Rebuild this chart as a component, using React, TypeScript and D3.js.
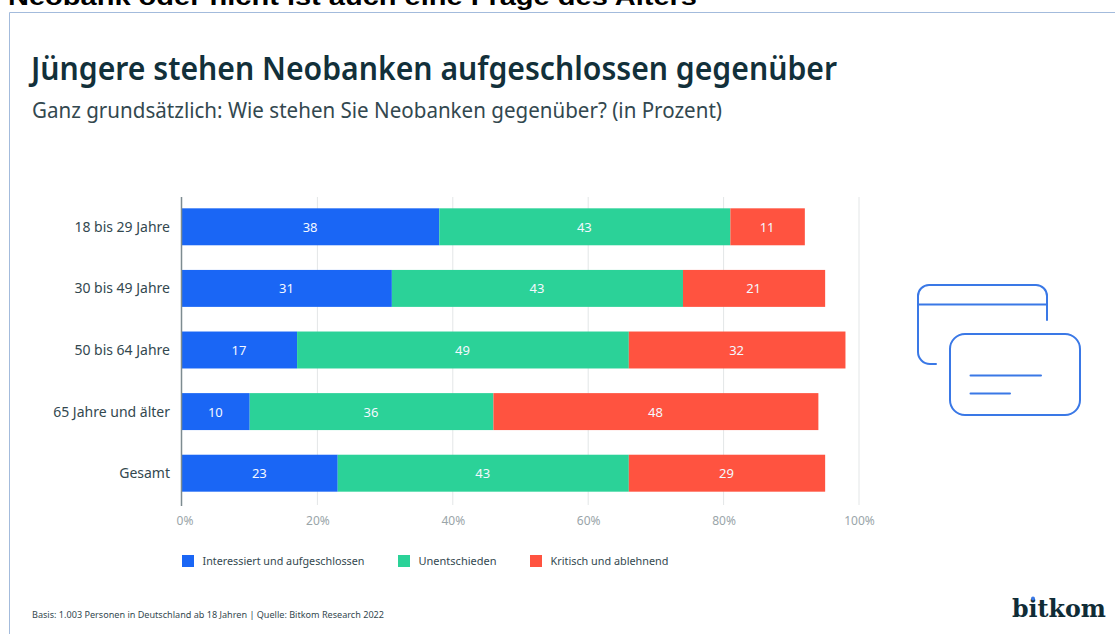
import React from "react";
import * as d3 from "d3";

const categories = ["18 bis 29 Jahre", "30 bis 49 Jahre", "50 bis 64 Jahre", "65 Jahre und älter", "Gesamt"];
const interessiert = [38, 31, 17, 10, 23];
const unentschieden = [43, 43, 49, 36, 43];
const kritisch = [11, 21, 32, 48, 29];
const seriesNames = ["Interessiert und aufgeschlossen", "Unentschieden", "Kritisch und ablehnend"];
const seriesColors = ["#1a66f5", "#2bd298", "#ff5340"];
const tickValues = [0, 20, 40, 60, 80, 100];
const headline = "Neobank oder nicht ist auch eine Frage des Alters";
const title = "Jüngere stehen Neobanken aufgeschlossen gegenüber";
const subtitle = "Ganz grundsätzlich: Wie stehen Sie Neobanken gegenüber? (in Prozent)";
const source = "Basis: 1.003 Personen in Deutschland ab 18 Jahren | Quelle: Bitkom Research 2022";

const FONT = "'Noto Sans', 'Open Sans', sans-serif";
const DARK = "#12303a";
const SOFT = "#33484f";

export default function App() {
  const x = d3.scaleLinear().domain([0, 100]).range([182, 859]);
  const y = d3.scaleBand().domain(categories).range([196, 504]).paddingInner(0.4).paddingOuter(0.2);
  const rows = categories.map((c, i) => ({ c, a: interessiert[i], b: unentschieden[i], d: kritisch[i] }));
  const stack = d3.stack<any>().keys(["a", "b", "d"])(rows);
  const legendX = [182, 398, 530];
  const legendW = [162, 78, 118];
  return (
    <svg width={1115} height={634} style={{ position: "absolute", left: 0, top: 0, background: "#fff" }} fontFamily={FONT}>
      <text x={8} y={5} fontFamily="'Liberation Sans', Arial, sans-serif" fontWeight={700} fontSize={24} fill="#000" textLength={689} lengthAdjust="spacingAndGlyphs">{headline}</text>
      <path d="M9.500,634V12.500H1115" fill="none" stroke="#a3bbdc" strokeWidth={1} />
      <text x={31} y={80} fontSize={33} fontWeight={600} fill={DARK} textLength={806} lengthAdjust="spacingAndGlyphs">{title}</text>
      <text x={32} y={118} fontSize={21.5} fill={SOFT} textLength={690} lengthAdjust="spacingAndGlyphs">{subtitle}</text>

      {tickValues.slice(1).map((t) => (
        <line key={t} x1={x(t)} x2={x(t)} y1={197} y2={505} stroke="#e3e6e7" strokeWidth={1} />
      ))}
      {stack.map((s, si) =>
        s.map((d, i) => (
          <g key={`${si}-${i}`}>
            <rect x={x(d[0])} y={y(categories[i])} width={x(d[1]) - x(d[0])} height={y.bandwidth()} fill={seriesColors[si]} />
            <text x={(x(d[0]) + x(d[1])) / 2 - 0.5} y={y(categories[i])! + y.bandwidth() / 2 + 5} textAnchor="middle" fontSize={13} fill="#f4f8ff">{d[1] - d[0]}</text>
          </g>
        ))
      )}
      <line x1={181.500} x2={181.500} y1={197} y2={506} stroke="#7d8b90" strokeWidth={1.5} />
      {categories.map((c) => (
        <text key={c} x={170} y={y(c)! + y.bandwidth() / 2 + 5} textAnchor="end" fontSize={14} fill={SOFT}>{c}</text>
      ))}
      {tickValues.map((t) => (
        <text key={t} x={t === 0 ? x(t) + 3 : x(t) + 0.5} y={525} textAnchor="middle" fontSize={12} fill="#9aa5a9">{t}%</text>
      ))}
      {seriesNames.map((n, i) => (
        <g key={n}>
          <rect x={legendX[i]} y={555} width={12} height={12} fill={seriesColors[i]} />
          <text x={legendX[i] + 20.500} y={565} fontSize={11} fill={SOFT} textLength={legendW[i]} lengthAdjust="spacingAndGlyphs">{n}</text>
        </g>
      ))}
      <text x={32} y={618} fontSize={9.500} fill={SOFT} textLength={352} lengthAdjust="spacingAndGlyphs">{source}</text>

      <g fill="none" stroke="#3a78e6" strokeWidth={2} strokeLinecap="round">
        <path d="M1047,320V296a11,11 0 0 0-11-11H929a11,11 0 0 0-11,11V352a12,12 0 0 0 12,12h6" />
        <path d="M918,304.500H1047" />
        <rect x={950} y={334} width={130} height={81} rx={15} />
        <path d="M970.500,375.500H1041M970.500,393.500H1010" />
      </g>
      <text x={1012} y={617} fontFamily="'DejaVu Serif', serif" fontWeight={700} fontSize={25} fill="#102c36" textLength={94} lengthAdjust="spacingAndGlyphs">bitkom</text>
      <circle cx={1033} cy={598.500} r={2} fill="#3a78e6" />
    </svg>
  );
}
